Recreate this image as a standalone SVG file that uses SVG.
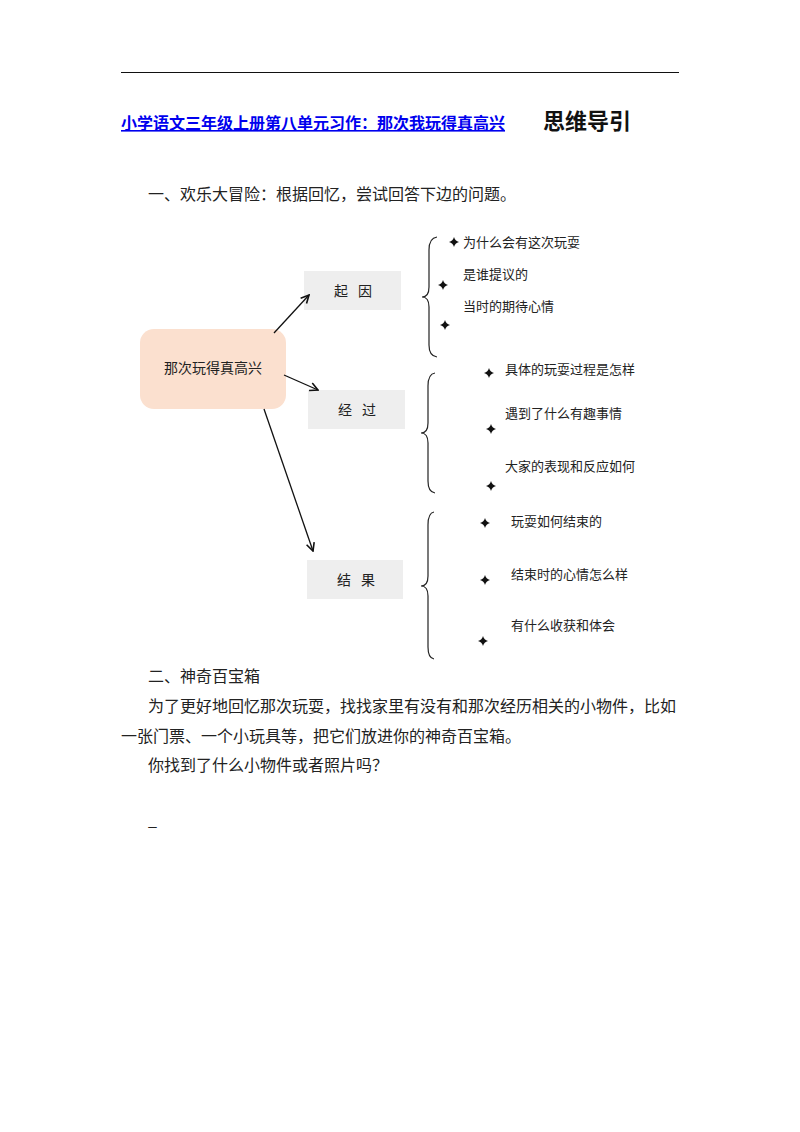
<svg xmlns="http://www.w3.org/2000/svg" width="800" height="1132" viewBox="0 0 800 1132">
<style>
text{font-family:"Noto Sans CJK SC","Liberation Sans",sans-serif;fill:#222}
.b{font-size:16px}.s{font-size:13px}.n{font-size:14px;letter-spacing:10px}
.box{fill:#eeeeee}
.ln{stroke:#111;stroke-width:1.3;fill:none}
.br{stroke:#222;stroke-width:1.2;fill:none}
</style>
<defs>
<marker id="ah" viewBox="0 0 10 10" refX="9" refY="5" markerWidth="10" markerHeight="10" orient="auto" markerUnits="userSpaceOnUse"><path d="M1,1 L9,5 L1,9" fill="none" stroke="#111" stroke-width="1.6"/></marker>
<path id="st" d="M0,-5 Q1,-1 5,0 Q1,1 0,5 Q-1,1 -5,0 Q-1,-1 0,-5Z" fill="#111"/>
</defs>
<rect width="800" height="1132" fill="#fff"/>
<line x1="121" y1="72.5" x2="679" y2="72.5" stroke="#111" stroke-width="1.2"/>
<text x="121" y="129" style="font-size:16px;font-weight:bold;fill:#0000ee;text-decoration:underline">小学语文三年级上册第八单元习作：那次我玩得真高兴</text>
<text x="543" y="129" style="font-size:22px;font-weight:bold;fill:#111">思维导引</text>
<text x="148" y="200" class="b">一、欢乐大冒险：根据回忆，尝试回答下边的问题。</text>
<g id="center"><rect x="140" y="329" width="146" height="80" rx="14" fill="#fbe0cf"/><text x="213" y="373" style="font-size:14px" text-anchor="middle">那次玩得真高兴</text></g>
<g id="qiyin"><rect class="box" x="304" y="271" width="97" height="39"/><text x="358" y="296" class="n" text-anchor="middle">起因</text></g>
<g id="jingguo"><rect class="box" x="308" y="390" width="97" height="39"/><text x="362" y="415" class="n" text-anchor="middle">经过</text></g>
<g id="jieguo"><rect class="box" x="307" y="560" width="96" height="39"/><text x="361" y="585" class="n" text-anchor="middle">结果</text></g>
<g id="connectors">
<line class="ln" x1="274" y1="333" x2="309" y2="295" marker-end="url(#ah)"/>
<line class="ln" x1="284" y1="375" x2="318" y2="390" marker-end="url(#ah)"/>
<line class="ln" x1="264" y1="409" x2="313" y2="551" marker-end="url(#ah)"/>
<path class="br" d="M437,237 Q429,238 429,250 L429,287 Q429,297 422,297 Q429,297 429,307 L429,345 Q429,356 437,357"/>
<path class="br" d="M435,373 Q428,374 428,386 L428,423 Q428,433 421,433 Q428,433 428,443 L428,481 Q428,492 435,493"/>
<path class="br" d="M434,512 Q428,513 428,525 L428,576 Q428,586 421,586 Q428,586 428,596 L428,647 Q428,658 434,659"/>
</g>
<g id="items">
<use href="#st" x="454" y="242"/><use href="#st" x="443" y="285"/><use href="#st" x="445" y="325"/>
<use href="#st" x="489" y="373"/><use href="#st" x="491" y="429"/><use href="#st" x="491" y="486"/>
<use href="#st" x="485" y="523"/><use href="#st" x="485" y="580"/><use href="#st" x="483" y="641"/>
<text x="463" y="247" class="s">为什么会有这次玩耍</text>
<text x="463" y="279" class="s">是谁提议的</text>
<text x="463" y="311" class="s">当时的期待心情</text>
<text x="505" y="374" class="s">具体的玩耍过程是怎样</text>
<text x="505" y="418" class="s">遇到了什么有趣事情</text>
<text x="505" y="471" class="s">大家的表现和反应如何</text>
<text x="511" y="526" class="s">玩耍如何结束的</text>
<text x="511" y="579" class="s">结束时的心情怎么样</text>
<text x="511" y="630" class="s">有什么收获和体会</text>
</g>
<text x="148" y="682" class="b">二、神奇百宝箱</text>
<text x="148" y="712" class="b">为了更好地回忆那次玩耍，找找家里有没有和那次经历相关的小物件，比如</text>
<text x="121" y="742" class="b">一张门票、一个小玩具等，把它们放进你的神奇百宝箱。</text>
<text x="148" y="771" class="b">你找到了什么小物件或者照片吗？</text>
<text x="148" y="826" class="b">_</text>
</svg>
